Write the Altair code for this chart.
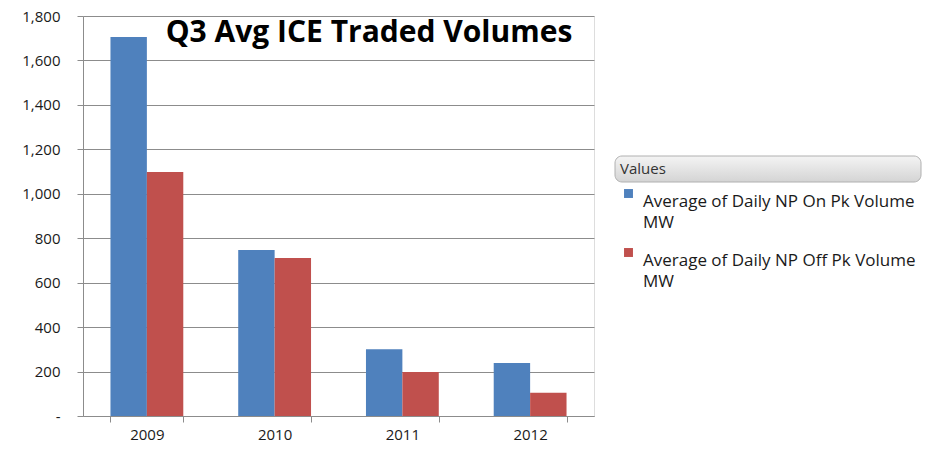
import altair as alt
import pandas as pd

years = ["2009", "2010", "2011", "2012"]
series = ["Average of Daily NP On Pk Volume MW", "Average of Daily NP Off Pk Volume MW"]
on_pk = [1705, 747, 300, 238]
off_pk = [1098, 711, 198, 105]
y_ticks = [0, 200, 400, 600, 800, 1000, 1200, 1400, 1600, 1800]
title_text = "Q3 Avg ICE Traded Volumes"
legend_title = "Values"
colors = ["#4F81BD", "#C0504D"]

rows = []
for i, yr in enumerate(years):
    rows.append({"year": yr, "series": series[0], "value": on_pk[i]})
    rows.append({"year": yr, "series": series[1], "value": off_pk[i]})
df = pd.DataFrame(rows)

FONT = "Open Sans"
GRID = "#8c8c8c"

bars = alt.Chart(df).mark_bar().encode(
    x=alt.X("year:N", sort=years,
            scale=alt.Scale(paddingInner=0.43, paddingOuter=0.215),
            axis=alt.Axis(title=None, labelAngle=0, tickBand="extent",
                          tickSize=6, tickColor=GRID, domainColor=GRID,
                          labelPadding=5, labelFontSize=15, labelColor="#1a1a1a",
                          labelLineHeight=15, labelFont=FONT)),
    xOffset=alt.XOffset("series:N", sort=series, scale=alt.Scale(paddingInner=0, paddingOuter=0)),
    y=alt.Y("value:Q", scale=alt.Scale(domain=[0, 1800], nice=False),
            axis=alt.Axis(title=None, values=y_ticks, grid=True, gridColor=GRID,
                          tickSize=6, tickColor=GRID, domainColor=GRID,
                          labelExpr="datum.value == 0 ? '-' : format(datum.value, ',')",
                          labelPadding=17, labelFontSize=15, labelColor="#1a1a1a",
                          labelLineHeight=15, labelFont=FONT)),
    color=alt.Color("series:N", sort=series,
                    scale=alt.Scale(domain=series, range=colors),
                    legend=alt.Legend(title=legend_title, orient="none",
                                      legendX=537, legendY=146,
                                      titleFont=FONT, titleFontSize=15,
                                      titleFontWeight="normal", titleColor="#333",
                                      titlePadding=8,
                                      labelFont=FONT, labelFontSize=17, labelColor="#1a1a1a",
                                      labelLimit=400, symbolType="square", symbolSize=80,
                                      symbolStrokeWidth=0, rowPadding=13,
                                      labelExpr="[replace(datum.label, ' MW', ''), 'MW']",
                                      labelBaseline="top", labelOffset=6)),
)

header = alt.Chart(alt.Data(values=[{"k": 1}])).mark_rect(
    cornerRadius=7, stroke="#b0b0b0", strokeWidth=1,
    fill=alt.Gradient(gradient="linear", x1=0, x2=0, y1=0, y2=1,
                      stops=[alt.GradientStop(color="#f4f4f4", offset=0),
                             alt.GradientStop(color="#d4d4d4", offset=1)])
).encode(x=alt.value(532), x2=alt.value(838), y=alt.value(140), y2=alt.value(166))

title = alt.Chart(alt.Data(values=[{"t": title_text}])).mark_text(
    font=FONT, fontSize=30, fontWeight="bold", color="#000", align="center", baseline="middle"
).encode(text="t:N", x=alt.value(286), y=alt.value(17))

chart = alt.layer(header, bars, title).properties(
    width=511, height=400,
    autosize=alt.AutoSizeParams(type="none"),
    padding={"left": 75, "top": 8, "right": 328, "bottom": 28},
).configure_view(stroke=None).configure(style={"guide-label": {"lineHeight": 21}})

chart.save("out.html", embed_options={"renderer": "svg", "actions": False})
